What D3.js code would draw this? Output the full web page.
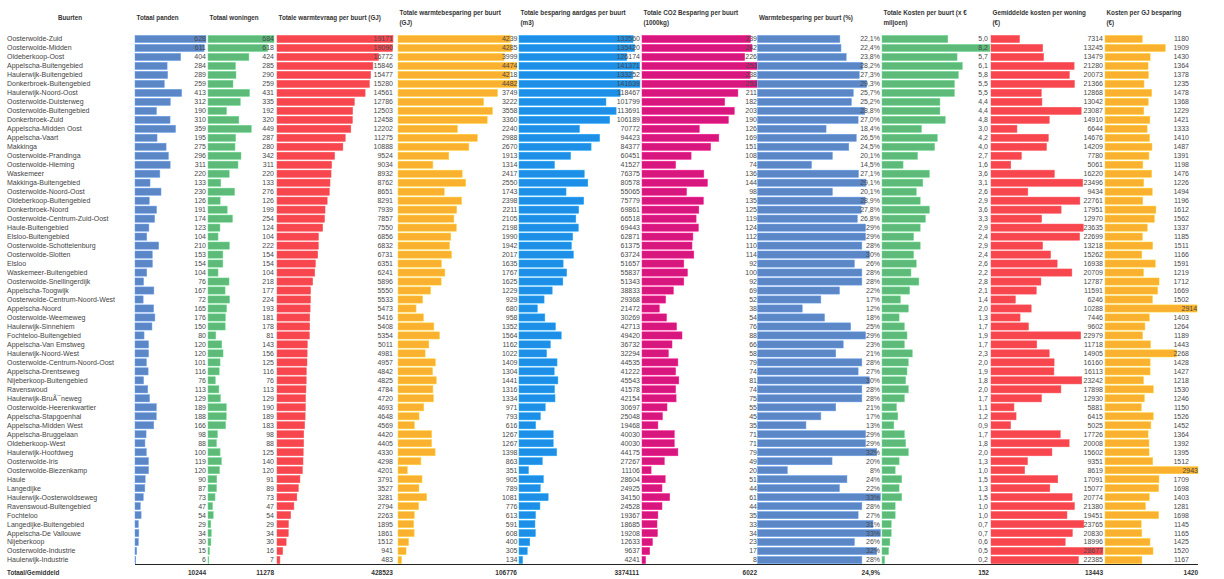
<!DOCTYPE html>
<html><head><meta charset="utf-8">
<script src="https://cdn.jsdelivr.net/npm/d3@7"></script>
<style>
html,body{margin:0;padding:0;background:#fff;}
svg{display:block;font-family:"Liberation Sans",Arial,sans-serif;}
</style></head>
<body><svg id="chart" width="1224" height="579"></svg>
<script>
const buurten = ["Oosterwolde-Zuid","Oosterwolde-Midden","Oldeberkoop-Oost","Appelscha-Buitengebied","Haulerwijk-Buitengebied","Donkerbroek-Buitengebied","Haulerwijk-Noord-Oost","Oosterwolde-Duisterweg","Oosterwolde-Buitengebied","Donkerbroek-Zuid","Appelscha-Midden Oost","Appelscha-Vaart","Makkinga","Oosterwolde-Prandinga","Oosterwolde-Hieming","Waskemeer","Makkinga-Buitengebied","Oosterwolde-Noord-Oost","Oldeberkoop-Buitengebied","Donkerbroek-Noord","Oosterwolde-Centrum-Zuid-Oost","Haule-Buitengebied","Elsloo-Buitengebied","Oosterwolde-Schottelenburg","Oosterwolde-Slotten","Elsloo","Waskemeer-Buitengebied","Oosterwolde-Snellingerdijk","Appelscha-Toogwijk","Oosterwolde-Centrum-Noord-West","Appelscha-Noord","Oosterwolde-Weemeweg","Haulerwijk-Sinnehiem","Fochteloo-Buitengebied","Appelscha-Van Emstweg","Haulerwijk-Noord-West","Oosterwolde-Centrum-Noord-Oost","Appelscha-Drentseweg","Nijeberkoop-Buitengebied","Ravenswoud","Haulerwijk-BruÃ¯neweg","Oosterwolde-Heerenkwartier","Appelscha-Stapgoenhal","Appelscha-Midden West","Appelscha-Bruggelaan","Oldeberkoop-West","Haulerwijk-Hoofdweg","Oosterwolde-Iris","Oosterwolde-Biezenkamp","Haule","Langedijke","Haulerwijk-Oosterwoldseweg","Ravenswoud-Buitengebied","Fochteloo","Langedijke-Buitengebied","Appelscha-De Vallouwe","Nijeberkoop","Oosterwolde-Industrie","Haulerwijk-Industrie"];
const panden = [628,611,404,284,289,259,413,312,190,310,359,195,275,296,311,220,133,230,126,191,174,123,104,210,153,154,104,76,167,72,165,176,150,80,120,120,101,116,76,113,129,189,188,166,98,88,100,119,120,90,87,73,47,54,29,34,30,15,6];
const woningen = [684,618,424,285,290,259,431,335,192,320,449,287,280,342,311,220,133,276,126,199,254,124,104,222,154,154,104,218,177,224,193,181,178,81,143,156,125,116,76,113,129,190,189,183,98,88,125,140,120,91,89,73,47,54,29,34,30,16,7];
const warmtevraag = [19171,19090,16772,15846,15477,15280,14561,12786,12503,12458,12202,11275,10888,9524,9034,8932,8762,8651,8291,7939,7857,7550,6856,6832,6731,6351,6241,5896,5550,5533,5473,5416,5408,5354,5011,4981,4957,4842,4825,4784,4720,4693,4648,4569,4420,4405,4330,4298,4201,3791,3527,3281,2794,2263,1895,1861,1512,941,483];
const warmtebesparing = [4239,4285,3999,4474,4218,4482,3749,3222,3558,3360,2240,2988,2670,1913,1314,2417,2550,1743,2398,2211,2105,2198,1990,1942,2017,1635,1767,1625,1229,929,680,958,1352,1564,1162,1022,1409,1304,1441,1316,1334,971,793,616,1267,1267,1398,863,351,905,789,1081,776,613,591,608,400,305,134];
const aardgas = [133560,135420,126174,141371,133252,141639,118467,101799,113691,106189,70772,94423,84377,60451,41527,76375,80578,55065,75779,69861,66518,69443,62871,61375,63724,51657,55837,51343,38833,29368,21472,30269,42713,49420,36732,32294,44535,41222,45543,41578,42154,30697,25048,19468,40030,40030,44175,27267,11106,28604,24925,34150,24528,19367,18685,19208,12633,9637,4241];
const co2 = [239,242,226,253,238,253,211,182,203,190,126,169,151,108,74,136,144,98,135,125,119,124,112,110,114,92,100,92,69,52,38,54,76,88,66,58,79,74,81,74,75,55,45,35,71,71,79,49,20,51,44,61,44,35,33,34,23,17,8];
const besparingPct = [22.1,22.4,23.8,28.2,27.3,29.3,25.7,25.2,28.8,27.0,18.4,26.5,24.5,20.1,14.5,27.1,29.1,20.1,28.9,27.8,26.8,29,29,28,30,26,28,28,22,17,12,18,25,29,23,21,28,27,30,28,28,21,17,13,29,29,32,20,8,24,22,33,28,27,31,33,26,32,28];
const pctDecimalRows = 21;
const kosten = [5.0,8.2,5.7,6.1,5.8,5.5,5.5,4.4,4.4,4.8,3.0,4.2,4.0,2.7,1.6,3.6,3.1,2.6,2.9,3.6,3.3,2.9,2.4,2.9,2.4,2.6,2.2,2.8,2.1,1.4,2.0,1.3,1.7,1.9,1.7,2.3,2.0,1.9,1.8,2.0,1.7,1.1,1.2,0.9,1.7,1.8,2.0,1.3,1.0,1.5,1.3,1.5,1.0,1.0,0.7,0.7,0.6,0.5,0.2];
const gemKosten = [7314,13245,13479,21280,20073,21366,12868,13042,23087,14910,6644,14676,14209,7780,5061,16220,23496,9434,22761,17951,12970,23635,22699,13218,15262,16938,20709,12787,11591,6246,10288,7446,9602,22979,11718,14905,16160,16113,23242,17898,12930,5881,6415,5025,17726,20008,15602,9351,8619,17091,15077,20774,21380,19451,23765,20830,18996,28677,22385];
const kostenGJ = [1180,1909,1430,1364,1378,1235,1478,1368,1229,1421,1333,1410,1487,1391,1198,1476,1226,1494,1196,1612,1562,1337,1185,1511,1166,1591,1219,1712,1669,1502,2914,1403,1264,1189,1443,2268,1428,1427,1218,1530,1246,1150,1526,1452,1364,1392,1395,1512,2943,1709,1698,1403,1281,1698,1145,1165,1425,1520,1167];
const totalen = [10244,11278,428523,106776,3374111,6022,24.9,152,13443,1420];
const headerBuurten = "Buurten";
const headerTotaal = "Totaal/Gemiddeld";
const headers = [
  ["Totaal panden"],
  ["Totaal woningen"],
  ["Totale warmtevraag per buurt (GJ)"],
  ["Totale warmtebesparing per buurt","(GJ)"],
  ["Totale besparing aardgas per buurt","(m3)"],
  ["Totale CO2 Besparing per buurt","(1000kg)"],
  ["Warmtebesparing per buurt (%)"],
  ["Totale Kosten per buurt (x €","miljoen)"],
  ["Gemiddelde kosten per woning","(€)"],
  ["Kosten per GJ besparing","(€)"]
];

const comma = s => s.replace(".", ",");
const fmtInt = d3.format("d");
const fmt1 = v => comma(d3.format(".1f")(v));

// layout config (positions / styles)
const columns = [
  {data: panden,          x0:135, w:71,  color:"#5b87c7", label:206,  total:206,  fmt: v=>fmtInt(v)},
  {data: woningen,        x0:208, w:66,  color:"#5dba79", label:274,  total:274,  fmt: v=>fmtInt(v)},
  {data: warmtevraag,     x0:277, w:116, color:"#f7464e", label:393,  total:393,  fmt: v=>fmtInt(v)},
  {data: warmtebesparing, x0:398, w:119, color:"#fbb130", label:517.5,total:517,  fmt: v=>fmtInt(v)},
  {data: aardgas,         x0:519, w:121, color:"#1d8fe6", label:640,  total:639,  fmt: v=>fmtInt(v)},
  {data: co2,             x0:642, w:115, color:"#d8177e", label:757,  total:757,  fmt: v=>fmtInt(v)},
  {data: besparingPct,    x0:757.5, w:123, color:"#5b87c7", label:880, total:880, fmt: (v,i)=> i<pctDecimalRows ? fmt1(v)+"%" : fmtInt(v)+"%", tfmt: v=>fmt1(v)+"%"},
  {data: kosten,          x0:882, w:108, color:"#5dba79", label:988,  total:989,  fmt: v=>fmt1(v), tfmt: v=>fmtInt(v)},
  {data: gemKosten,       x0:991, w:112, color:"#f7464e", label:1103, total:1103, fmt: v=>fmtInt(v)},
  {data: kostenGJ,        x0:1105,w:93,  color:"#fbb130", label:1189, total:1198, fmt: v=>fmtInt(v), grow:true}
];

const svg = d3.select("#chart");
const y = d3.scaleBand().domain(buurten).range([34.5, 564.5]).paddingInner(0.2).paddingOuter(0.1);

// header
svg.append("text").attr("x",70).attr("y",19.5).attr("text-anchor","middle")
  .attr("font-size",6.3).attr("font-weight","bold").attr("fill","#333").text(headerBuurten);

const defs = svg.append("defs");
columns.forEach((c,ci)=>{
  const next = ci<columns.length-1 ? columns[ci+1].x0 : 1224;
  defs.append("clipPath").attr("id","hc"+ci).append("rect")
    .attr("x",c.x0).attr("y",0).attr("width",next-c.x0-1).attr("height",30);
  const lines = headers[ci];
  const g = svg.append("g").attr("clip-path","url(#hc"+ci+")");
  lines.forEach((t,li)=>{
    const yy = lines.length===1 ? 19.5 : (li===0 ? 15 : 25);
    g.append("text").attr("x",c.x0+1.5).attr("y",yy)
      .attr("font-size",6.3).attr("font-weight","bold").attr("fill","#333").text(t);
  });
});

// row labels
svg.append("g").selectAll("text").data(buurten).join("text")
  .attr("x",7).attr("y",d=>y(d)+y.bandwidth()/2).attr("dy","0.35em")
  .attr("font-size",7).attr("fill","#444").text(d=>d);

// bars + values
columns.forEach(c=>{
  const x = d3.scaleLinear().domain([0, d3.max(c.data)]).range([0, c.w]);
  const g = svg.append("g");
  g.selectAll("rect").data(c.data).join("rect")
    .attr("x",c.x0).attr("y",(d,i)=>y(buurten[i]))
    .attr("width",d=>Math.max(0.8,x(d))).attr("height",y.bandwidth())
    .attr("fill",c.color)
    .attr("stroke",d3.color(c.color).brighter(0.5)).attr("stroke-width",0.5);
  g.selectAll("text").data(c.data).join("text")
    .attr("x",d=> c.grow ? Math.max(c.label, c.x0+x(d)) : c.label)
    .attr("y",(d,i)=>y(buurten[i])+y.bandwidth()/2).attr("dy","0.35em")
    .attr("text-anchor","end").attr("font-size",7).attr("fill","#4a4a4a")
    .text((d,i)=>c.fmt(d,i));
});

// total line and row
svg.append("line").attr("x1",135).attr("x2",1198).attr("y1",564.5).attr("y2",564.5)
  .attr("stroke","#222").attr("stroke-width",1);
svg.append("text").attr("x",7).attr("y",574.5).attr("font-size",6.3)
  .attr("font-weight","bold").attr("fill","#333").text(headerTotaal);
columns.forEach((c,ci)=>{
  svg.append("text").attr("x",c.total).attr("y",574.5).attr("text-anchor","end")
    .attr("font-size",6.5).attr("font-weight","bold").attr("fill","#333")
    .text((c.tfmt||c.fmt)(totalen[ci], 0));
});
</script></body></html>
